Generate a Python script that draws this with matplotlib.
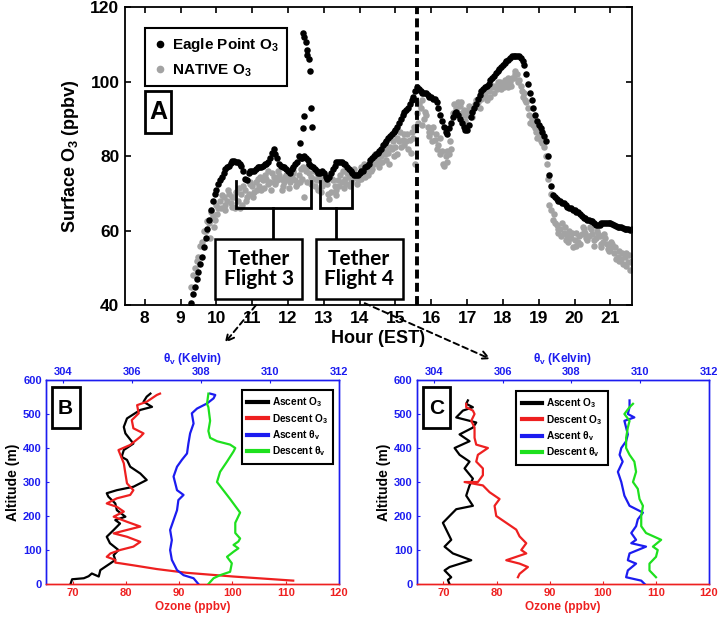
import numpy as np
import matplotlib
matplotlib.use('Agg')
import matplotlib.pyplot as plt
from matplotlib.patches import Rectangle, FancyArrowPatch
from matplotlib.lines import Line2D

plt.rcParams['font.family'] = ['Liberation Sans', 'DejaVu Sans']
plt.rcParams['font.weight'] = 'bold'
plt.rcParams['mathtext.fontset'] = 'custom'
plt.rcParams['mathtext.rm'] = 'Liberation Sans:bold'
plt.rcParams['mathtext.it'] = 'Liberation Sans:bold'
plt.rcParams['mathtext.bf'] = 'Liberation Sans:bold'

# ---------------- Panel A data ----------------
eagle_start_a = 9.3
eagle_o3_a = [40.5, 45, 49, 53, 58, 63, 68,
              71, 73.5, 75.5, 77, 78.3, 78.8, 78.5, 77.5, 74, 75.5,
              76, 76.5, 77, 77.5, 78, 79.5, 82, 79.5, 77.5, 77,
              76, 76.5, 78, 80, 79.5, 79.5, 78, 77, 76, 75.5,
              75.5, 74, 75.5, 77.5, 78.5, 78.5, 78, 76.5, 75.5, 75,
              75.5, 76, 77.5, 79, 80, 81, 82, 83.5, 85, 86,
              87, 89, 91, 92.5, 94, 96, 98.5, 97.5, 97, 96.5,
              96, 95.5, 93, 89.5, 86.5, 87.5, 90.5, 92, 90, 88,
              87, 90.5, 93, 95.5, 97.5, 98.5, 99.5, 101, 102.5, 103.5,
              104.5, 105.5, 106.5, 107, 107, 106.5, 104.5, 99.5, 95, 91,
              88.5, 86.5, 84, 75, 69.5, 68.5, 68, 67.5, 66.5, 66,
              65.5, 65, 64, 63.5, 63, 62.5, 61.5, 61.5, 62, 62.2,
              62, 61.5, 61, 61, 60.5, 60.5, 60.5]
eagle_start_b = 9.35
eagle_o3_b = [43, 47, 51, 55.5, 60.5, 65.5, 70,
              72.5, 74.5, 76.5, 77.5, 78.8, 78.5, 78, 76, 73.5, 76,
              76, 77, 77, 78, 78.5, 81, 80.5, 78, 77, 76.5,
              75.5, 77, 78.5, 79.5, 80, 79, 77.5, 76.5, 75.5, 76,
              74.5, 74.5, 76.5, 78.5, 78.5, 78, 77, 76, 75, 75,
              76, 77, 78, 79.5, 80.5, 81.5, 83, 84, 85.5, 86.5,
              88, 90, 92, 93, 95, 97.5, 98, 97, 97, 96,
              95.5, 94.5, 91, 88, 86, 89, 91.5, 91, 89, 87,
              88.5, 92, 94, 96.5, 98, 99, 100.5, 101.5, 103, 104,
              105, 106, 107, 107, 107, 105.5, 102, 97, 93, 89.5,
              87.5, 85.5, 80, 72, 69, 68, 67.5, 67, 66, 65.5,
              65, 64.5, 63.5, 63, 62.5, 62, 61.5, 62, 62.2, 62,
              61.8, 61.2, 61, 60.8, 60.5, 60.2]
spike_hours = [12.42, 12.44, 12.49, 12.53, 12.52, 12.59, 12.61, 12.63, 12.44, 12.42, 12.66, 12.33, 12.38]
spike_o3 = [113, 112, 110.7, 108.6, 107.1, 106.2, 102.9, 93, 90.7, 87.6, 88, 83.6, 79.8]

native_start_a = 9.3
native_o3_a = [45, 50, 53, 57, 60, 62, 64,
               67, 68, 69, 68, 67.5, 69, 68, 70, 71, 70,
               72, 73, 72, 73.5, 74, 73, 74.5, 73.5, 74, 73,
               74, 74.5, 73.5, 75, 74, 76, 75.5, 74, 73.5, 74,
               73, 72.5, 70.5, 72, 73.5, 73, 74, 74.5, 74, 74.5,
               75.5, 76, 76.5, 77.5, 78, 79, 80, 80.5, 81, 82,
               82.5, 84, 84.5, 84, 84.5, 85, 91.5, 93, 90, 88,
               86.5, 84.5, 83, 81.5, 80, 80.5, 91.5, 93, 93.5, 92.5,
               91, 91.5, 93, 94.5, 95.5, 96.5, 97.5, 98.5, 99, 99,
               99.5, 99.5, 100, 101, 102, 99, 97, 93, 90, 87.5,
               86, 83.5, 80, 67, 63, 61.5, 60.5, 59.5, 58.5, 58,
               57.5, 57, 59, 59.5, 58.5, 59, 58, 58.5, 57, 56.5,
               55, 54, 53, 52.5, 53, 51.5, 52]
native_start_b = 9.35
native_o3_b = [48, 52, 56, 60, 62.5, 65, 63,
               66, 69.5, 67, 70, 66.5, 70.5, 66, 72, 69, 72.5,
               70.5, 74, 71, 75, 72.5, 75.5, 72.5, 75, 72, 75,
               73, 75.5, 72.5, 76.5, 69, 77.5, 74.5, 72, 75, 72,
               74.5, 68.5, 73.5, 71, 75, 71.5, 75.5, 73, 75.5, 73.5,
               77, 74.5, 78, 76.5, 79.5, 78, 81, 79, 82.5, 80,
               85, 82.5, 86, 82, 86.5, 78, 94, 88.5, 91, 85.5,
               88, 82, 85, 77.5, 78.5, 82, 92, 94.5, 91.5, 89.5,
               93.5, 90.5, 95, 93, 97, 95, 98.5, 97, 100, 98,
               100.5, 98.5, 101, 103, 100.5, 96, 94.5, 89, 88.5, 85,
               84, 82.5, 74, 65.5, 62, 59.5, 62, 57.5, 60, 55.5,
               59.5, 56.5, 60.5, 57.5, 60.5, 56, 59, 56.5, 58, 54.5,
               56.5, 52.5, 54.5, 51, 54, 49.5]
native_start_c = 9.83
native_o3_c = [58, 61,
               64.5, 66, 65.5, 71, 69, 66, 71.5, 67, 68, 73,
               69, 71, 74.5, 71.5, 76, 71, 73, 76, 71, 74.5,
               71.5, 76, 72, 73, 77, 73, 72.5, 76, 71, 70.5,
               75, 70, 74, 69.5, 72, 76, 72.5, 72, 76.5, 72.5,
               74, 78, 75, 76, 80.5, 77, 78.5, 82, 78, 84,
               80.5, 86.5, 83, 86, 81, 88, 89, 95, 92, 86.5,
               84, 86, 80.5, 78, 81.5, 84, 94, 92, 94.5, 91,
               92.5, 92, 94, 95.5, 96, 97.5, 96, 99, 98, 100,
               98.5, 101, 99, 102, 100, 97.5, 95, 91, 89, 86.5,
               85, 84, 78, 70, 64.5, 60.5, 58.5, 61, 57, 59.5,
               56, 58.5, 61, 58, 61, 57.5, 60, 55.5, 59, 55,
               57, 55.5, 52, 54, 50.5, 53.5, 51]
flight_line_hour = 15.6
hour_ticks = list(range(8, 22))
o3_ticks = [40, 60, 80, 100, 120]

# ---------------- Panel B data ----------------
B_asc_o3_alt = [0, 14, 17, 23, 31, 22, 41, 61, 71, 85, 100, 120, 139, 159, 178, 188, 198, 217, 237, 257,
                267, 276, 286, 306, 325, 345, 365, 374, 394, 413, 443, 462, 487, 512, 521, 536, 551, 560]
B_asc_o3 = [69.6, 69.9, 72.1, 73.0, 73.6, 74.9, 75.2, 77.1, 78.0, 77.7, 78.6, 77.0, 76.4, 77.7, 78.9, 78.0,
            79.9, 78.3, 78.0, 76.7, 76.4, 78.3, 81.4, 83.9, 82.7, 80.8, 80.2, 79.2, 79.6, 81.4, 79.9, 79.6,
            80.2, 82.7, 84.9, 83.3, 83.9, 84.6]
B_des_o3_alt = [10, 22, 33, 44, 55, 61, 63, 71, 80, 90, 100, 110, 124, 139, 149, 159, 169, 183, 198, 213,
                227, 237, 252, 262, 276, 296, 325, 355, 394, 409, 433, 443, 458, 482, 502, 526, 536, 556, 560]
B_des_o3 = [111.4, 100.2, 91.4, 85.8, 81.4, 78.9, 78.0, 78.0, 76.4, 77.1, 78.9, 81.4, 82.7, 80.2, 77.7, 80.2,
            82.7, 80.2, 77.7, 79.6, 78.3, 76.4, 78.3, 80.8, 81.4, 80.2, 79.9, 79.6, 78.6, 80.8, 82.7, 83.3,
            81.4, 81.1, 82.4, 82.1, 83.9, 85.8, 86.4]
B_asc_th_alt = [0, 17, 26, 41, 71, 100, 129, 159, 188, 217, 247, 262, 276, 316, 345, 365, 384, 413, 443,
                472, 502, 516, 531, 546, 556, 560]
B_asc_th = [307.92, 307.78, 307.49, 307.30, 307.15, 307.10, 307.15, 307.10, 307.20, 307.30, 307.34, 307.49,
            307.30, 307.20, 307.30, 307.44, 307.59, 307.63, 307.68, 307.78, 307.73, 307.88, 308.17, 308.36,
            308.41, 308.26]
B_des_th_alt = [0, 17, 26, 36, 61, 80, 95, 105, 115, 125, 134, 150, 180, 210, 250, 300, 330, 360, 390, 400,
                410, 420, 430, 450, 480, 520, 530, 560]
B_des_th = [308.21, 308.36, 308.55, 308.84, 308.89, 308.75, 308.94, 309.08, 308.94, 309.08, 309.13, 308.99,
            308.99, 309.13, 308.84, 308.46, 308.55, 308.75, 308.94, 308.99, 308.84, 308.46, 308.26, 308.21,
            308.26, 308.21, 308.17, 308.21]

# ---------------- Panel C data ----------------
C_asc_o3_alt = [0, 12, 20, 40, 50, 70, 90, 110, 130, 150, 180, 200, 220, 230, 260, 290, 310, 340, 360, 380,
                400, 420, 440, 460, 475, 490, 510, 520, 530, 540]
C_asc_o3 = [71.15, 70.84, 71.47, 70.21, 71.15, 75.24, 71.78, 70.21, 71.47, 70.84, 69.90, 71.15, 72.41, 75.55,
            74.29, 74.92, 75.55, 73.98, 74.92, 73.04, 72.10, 74.92, 73.04, 75.55, 76.18, 72.41, 73.67, 75.55,
            74.29, 74.61]
C_des_o3_alt = [20, 30, 50, 60, 70, 80, 90, 100, 120, 140, 160, 180, 200, 230, 250, 270, 290, 300, 300, 320,
                340, 360, 380, 400, 410, 430, 460, 480, 500, 510, 520, 530]
C_des_o3 = [84.03, 84.34, 85.91, 84.34, 81.83, 83.71, 85.60, 84.66, 85.60, 84.34, 83.71, 81.83, 79.95, 79.63,
            80.57, 78.69, 77.43, 73.98, 76.49, 77.43, 77.43, 76.18, 76.49, 78.38, 76.18, 75.86, 75.86, 75.24,
            75.86, 75.55, 74.29, 74.29]
C_asc_th_alt = [0, 10, 20, 40, 60, 70, 90, 110, 120, 130, 150, 170, 190, 210, 230, 260, 300, 330, 360, 380,
                400, 420, 440, 460, 480, 490, 500, 520, 540]
C_asc_th = [310.13, 310.03, 309.59, 309.64, 309.88, 309.64, 309.69, 310.17, 309.74, 309.88, 309.74, 309.88,
            309.93, 310.08, 309.69, 309.54, 309.45, 309.35, 309.49, 309.40, 309.45, 309.59, 309.64, 309.59,
            309.54, 309.83, 309.64, 309.69, 309.69]
C_des_th_alt = [20, 40, 60, 80, 100, 110, 130, 150, 170, 200, 230, 250, 280, 300, 330, 360, 380, 400, 430,
                460, 480, 500, 520, 530]
C_des_th = [310.46, 310.27, 310.27, 310.46, 310.51, 310.37, 310.61, 310.17, 310.03, 310.03, 310.08, 309.98,
            309.93, 309.79, 309.88, 309.83, 309.69, 309.59, 309.59, 309.64, 309.69, 309.54, 309.69, 309.79]

ozone_ticks = [70, 80, 90, 100, 110, 120]
theta_ticks = [304, 306, 308, 310, 312]
alt_ticks = [0, 100, 200, 300, 400, 500, 600]

BLUE = '#1c1cf0'
RED = '#ee2020'
GREEN = '#1ee01e'
GRAY = '#a3a3a3'

fig = plt.figure(figsize=(7.2, 6.19), dpi=100)

# ================= Panel A =================
axA = fig.add_axes([0.1736, 0.507, 0.704, 0.481])
MS = 22
for start, vals in [(native_start_a, native_o3_a), (native_start_b, native_o3_b),
                    (native_start_c, native_o3_c)]:
    hrs = start + 0.1 * np.arange(len(vals))
    axA.scatter(hrs, vals, s=MS, color=GRAY, linewidths=0, zorder=2)
for start, vals in [(eagle_start_a, eagle_o3_a), (eagle_start_b, eagle_o3_b)]:
    hrs = start + 0.1 * np.arange(len(vals))
    axA.scatter(hrs, vals, s=MS, color='black', linewidths=0, zorder=3)
axA.scatter(spike_hours, spike_o3, s=MS, color='black', linewidths=0, zorder=3)
axA.axvline(flight_line_hour, color='black', lw=2.8, ls=(0, (2.3, 1.1)), zorder=4)
axA.set_xlim(7.45, 21.6)
axA.set_ylim(40, 120)
axA.set_xticks(hour_ticks)
axA.set_yticks(o3_ticks)
axA.tick_params(direction='in', top=True, right=True, length=4, width=1.2, labelsize=12.5, pad=4)
for sp in axA.spines.values():
    sp.set_linewidth(1.3)
axA.set_xlabel('Hour (EST)', fontsize=13, fontweight='bold', labelpad=3)
axA.set_ylabel('Surface O$_3$ (ppbv)', fontsize=13, fontweight='bold', labelpad=7)

handles = [Line2D([], [], marker='o', ls='', color='black', ms=4.5),
           Line2D([], [], marker='o', ls='', color=GRAY, ms=4.5)]
legA = axA.legend(handles, ['Eagle Point O$_3$', 'NATIVE O$_3$'], loc='upper left',
                  bbox_to_anchor=(0.039, 0.93), borderaxespad=0, fancybox=False, edgecolor='black',
                  framealpha=1, fontsize=11, handletextpad=0.3, handlelength=1.0, borderpad=0.5,
                  labelspacing=0.55)
legA.get_frame().set_linewidth(1.5)

axA.add_patch(Rectangle((0.0394, 0.578), 0.0513, 0.141, transform=axA.transAxes, fill=False,
                        ec='black', lw=2, zorder=6))
axA.text(0.065, 0.649, 'A', transform=axA.transAxes, ha='center', va='center', fontsize=18,
         fontweight='bold', zorder=7)

# tether brackets and boxes
lwb = 2.0
def bracket(x0, x1, xs, ytop, ymid, ybox):
    axA.plot([x0, x0, x1, x1], [ytop, ymid, ymid, ytop], color='black', lw=lwb, zorder=5,
             solid_joinstyle='miter')
    axA.plot([xs, xs], [ymid, ybox], color='black', lw=lwb, zorder=5)

bracket(10.56, 12.65, 11.58, 73.4, 66.0, 57.7)
bracket(12.89, 13.79, 13.34, 73.4, 66.0, 57.7)
for (x0, x1, label) in [(9.96, 12.4, 'Tether\nFlight 3'), (12.77, 15.2, 'Tether\nFlight 4')]:
    axA.add_patch(Rectangle((x0, 41.6), x1 - x0, 57.7 - 41.6, fc='white', ec='black', lw=1.8, zorder=6))
    axA.text((x0 + x1) / 2, 49.6, label, ha='center', va='center', fontsize=15, fontweight='bold',
             family=['Lato', 'DejaVu Sans'], linespacing=1.0, zorder=7)

# ================= Panels B and C =================
def profile_panel(rect, asc_o3_alt, asc_o3, des_o3_alt, des_o3, asc_th_alt, asc_th, des_th_alt, des_th,
                  letter, leg_loc, leg_anchor):
    ax = fig.add_axes(rect)
    ax2 = ax.twiny()
    ax.plot(asc_o3, asc_o3_alt, color='black', lw=1.6, zorder=3)
    ax.plot(des_o3, des_o3_alt, color=RED, lw=1.6, zorder=3)
    ax2.plot(asc_th, asc_th_alt, color=BLUE, lw=1.6, zorder=3)
    ax2.plot(des_th, des_th_alt, color=GREEN, lw=1.6, zorder=3)
    ax.set_xlim(65, 120)
    ax.set_ylim(0, 600)
    ax2.set_xlim(303.5, 312)
    ax.set_xticks(ozone_ticks)
    ax.set_yticks(alt_ticks)
    ax2.set_xticks(theta_ticks)
    for a in (ax, ax2):
        a.spines['bottom'].set_color(RED)
        a.spines['left'].set_color(BLUE)
        a.spines['right'].set_color(BLUE)
        a.spines['top'].set_color(BLUE)
        for sp in a.spines.values():
            sp.set_linewidth(1.0)
    ax.tick_params(axis='x', colors=RED, labelsize=8, direction='in', length=2, pad=3)
    ax.tick_params(axis='y', colors=BLUE, labelsize=8, direction='in', length=2, pad=3)
    ax2.tick_params(axis='x', colors=BLUE, labelsize=8, direction='in', length=2, pad=2)
    ax.set_xlabel('Ozone (ppbv)', color=RED, fontsize=8.5, fontweight='bold', labelpad=2)
    ax.set_ylabel('Altitude (m)', color='black', fontsize=10, fontweight='bold', labelpad=2)
    ax2.set_xlabel('θ$_v$ (Kelvin)', color=BLUE, fontsize=8.5, fontweight='bold', labelpad=4)
    hs = [Line2D([], [], color='black', lw=3), Line2D([], [], color=RED, lw=3),
          Line2D([], [], color=BLUE, lw=3), Line2D([], [], color=GREEN, lw=3)]
    leg = ax2.legend(hs, ['Ascent O$_3$', 'Descent O$_3$', 'Ascent θ$_v$', 'Descent θ$_v$'],
                     loc=leg_loc, bbox_to_anchor=leg_anchor, borderaxespad=0, fancybox=False,
                     edgecolor='black', framealpha=1, fontsize=7.3, handlelength=2.0,
                     handletextpad=0.4, labelspacing=0.25, borderpad=0.55)
    leg.get_frame().set_linewidth(1.5)
    ax2.add_patch(Rectangle((0.0195, 0.765), 0.095, 0.2, transform=ax2.transAxes, fill=False,
                            ec='black', lw=2, zorder=6))
    ax2.text(0.067, 0.862, letter, transform=ax2.transAxes, ha='center', va='center', fontsize=15,
             fontweight='bold', zorder=7)
    return ax, ax2

profile_panel([0.0639, 0.0565, 0.407, 0.3296], B_asc_o3_alt, B_asc_o3, B_des_o3_alt, B_des_o3,
              B_asc_th_alt, B_asc_th, B_des_th_alt, B_des_th, 'B', 'upper right', (0.98, 0.951))
profile_panel([0.579, 0.0565, 0.4056, 0.3296], C_asc_o3_alt, C_asc_o3, C_des_o3_alt, C_des_o3,
              C_asc_th_alt, C_asc_th, C_des_th_alt, C_des_th, 'C', 'upper left', (0.341, 0.946))

# dashed arrows linking the tether flights to the profile panels
for start, end in [((0.358, 0.5105), (0.3097, 0.4426)), ((0.503, 0.512), (0.685, 0.418))]:
    fig.add_artist(FancyArrowPatch(start, end, transform=fig.transFigure, arrowstyle='->',
                                   mutation_scale=14, linestyle=(0, (3, 2)), lw=1.4, color='black'))

fig.savefig('out.png', dpi=100)
